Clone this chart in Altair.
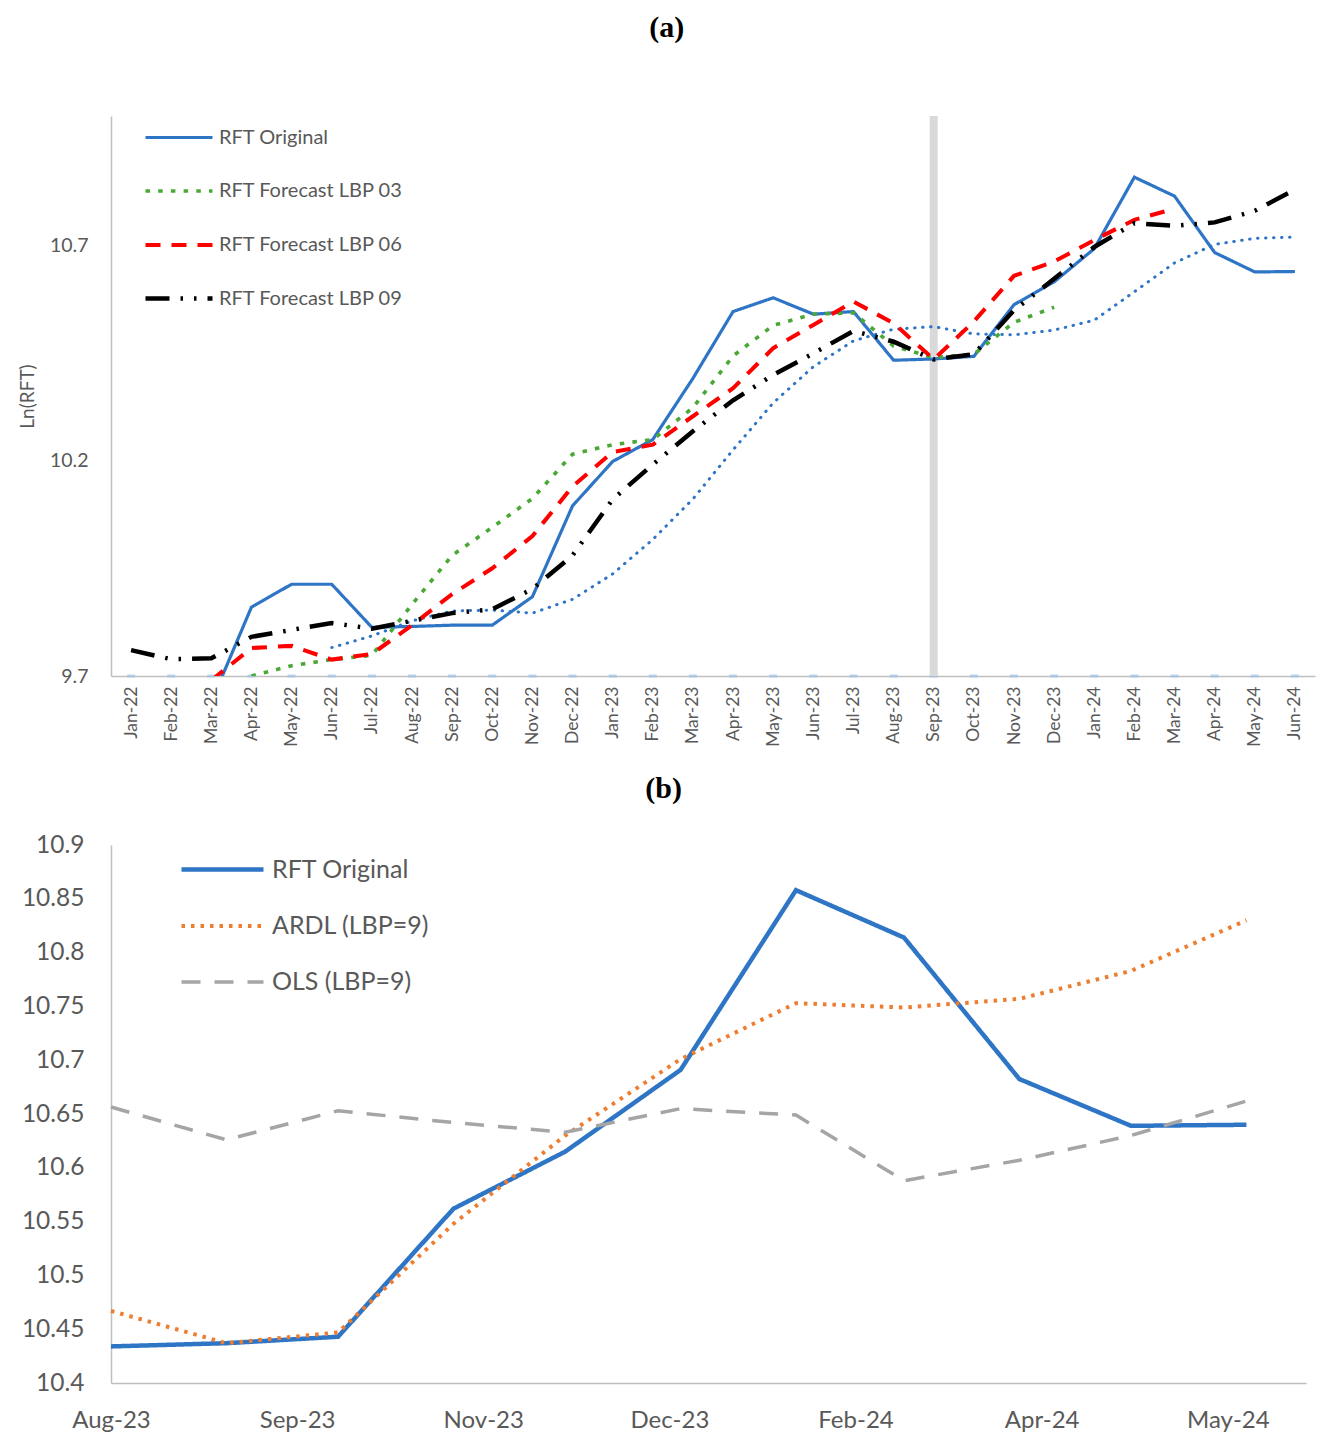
import altair as alt
import pandas as pd

# ---------------- Panel (a) data ----------------
months = ["Jan-22", "Feb-22", "Mar-22", "Apr-22", "May-22", "Jun-22", "Jul-22", "Aug-22",
          "Sep-22", "Oct-22", "Nov-22", "Dec-22", "Jan-23", "Feb-23", "Mar-23", "Apr-23",
          "May-23", "Jun-23", "Jul-23", "Aug-23", "Sep-23", "Oct-23", "Nov-23", "Dec-23",
          "Jan-24", "Feb-24", "Mar-24", "Apr-24", "May-24", "Jun-24"]

rft_original_a = [None, None, 9.64, 9.86, 9.913, 9.913, 9.813, 9.815, 9.818, 9.818, 9.884, 10.095,
                  10.198, 10.249, 10.391, 10.546, 10.578, 10.540, 10.546, 10.433, 10.436, 10.442,
                  10.562, 10.615, 10.692, 10.858, 10.814, 10.683, 10.638, 10.639]
lbp03 = [None, None, None, 9.70, 9.724, 9.738, 9.748, 9.866, 9.980, 10.045, 10.112, 10.215,
         10.237, 10.249, 10.323, 10.443, 10.514, 10.540, 10.543, 10.466, 10.439, 10.447,
         10.521, 10.556, None, None, None, None, None, None]
lbp06 = [None, None, 9.69, 9.765, 9.770, 9.738, 9.751, 9.818, 9.89, 9.95, 10.025, 10.14,
         10.22, 10.237, 10.303, 10.368, 10.461, 10.515, 10.569, 10.519, 10.435, 10.523,
         10.629, 10.662, 10.712, 10.759, 10.785, None, None, None]
lbp09 = [9.760, 9.739, 9.741, 9.791, 9.807, 9.823, 9.810, 9.828, 9.846, 9.855, 9.902, 9.98,
         10.110, 10.191, 10.268, 10.340, 10.399, 10.449, 10.501, 10.476, 10.435, 10.447,
         10.549, 10.622, 10.696, 10.751, 10.745, 10.753, 10.780, 10.829]
trend_ma = [None, None, None, None, None, 9.766, 9.793, 9.828, 9.851, 9.853, 9.846, 9.878,
            9.937, 10.017, 10.111, 10.225, 10.334, 10.418, 10.478, 10.505, 10.511, 10.494,
            10.492, 10.503, 10.526, 10.592, 10.659, 10.702, 10.716, 10.719]
series_a = ["RFT Original", "RFT Forecast LBP 03", "RFT Forecast LBP 06", "RFT Forecast LBP 09"]
highlight_month = "Sep-23"
yticks_a = [9.7, 10.2, 10.7]

# ---------------- Panel (b) data ----------------
dates_b = ["2023-08-01", "2023-09-01", "2023-10-01", "2023-11-01", "2023-12-01", "2024-01-01",
           "2024-02-01", "2024-03-01", "2024-04-01", "2024-05-01", "2024-06-01"]
rft_original_b = [10.434, 10.437, 10.443, 10.562, 10.615, 10.691, 10.858, 10.814, 10.6825, 10.639, 10.640]
ardl_b = [10.467, 10.437, 10.447, 10.548, 10.630, 10.701, 10.753, 10.749, 10.757, 10.783, 10.830]
ols_b = [10.6565, 10.626, 10.653, 10.642, 10.633, 10.655, 10.649, 10.588, 10.607, 10.630, 10.662]
series_b = ["RFT Original", "ARDL (LBP=9)", "OLS (LBP=9)"]
xtick_dates_b = ["2023-08-01", "2023-09-20", "2023-11-09", "2023-12-29", "2024-02-17", "2024-04-07", "2024-05-27"]
xdomain_b = ["2023-08-01", "2024-06-17"]
yticks_b = [10.4, 10.45, 10.5, 10.55, 10.6, 10.65, 10.7, 10.75, 10.8, 10.85, 10.9]

FONT = "Lato"
GREY_TXT = "#595959"
AXIS_LINE = "#bfbfbf"
BLUE = "#2E75C6"


def dt(s):
    y, m, d = (int(p) for p in s.split("-"))
    return alt.DateTime(year=y, month=m, date=d, utc=True)


# ---------- build panel (a) ----------
rows = []
for name, vals in zip(series_a, [rft_original_a, lbp03, lbp06, lbp09]):
    for m, v in zip(months, vals):
        if v is not None:
            rows.append({"month": m, "value": v, "series": name})
df_a = pd.DataFrame(rows)
df_ma = pd.DataFrame([{"month": m, "value": v} for m, v in zip(months, trend_ma) if v is not None])
df_months = pd.DataFrame({"month": months})
df_hl = pd.DataFrame({"month": [highlight_month]})

x_a = alt.X("month:N", sort=months,
            scale=alt.Scale(domain=months, type="point", padding=0.5),
            axis=alt.Axis(title=None, labelAngle=-90, labelFontSize=17.5, labelFont=FONT,
                          labelColor=GREY_TXT, domainColor=AXIS_LINE, domainWidth=1.5,
                          ticks=False, labelPadding=10, grid=False))
y_scale_a = alt.Scale(domain=[9.7, 11.0], nice=False, zero=False)
y_a = alt.Y("value:Q", scale=y_scale_a,
            axis=alt.Axis(values=yticks_a, format=".1f", title="Ln(RFT)", titleFont=FONT,
                          titleFontSize=19, titleFontWeight="normal", titleColor=GREY_TXT,
                          titlePadding=12, labelFont=FONT, labelFontSize=19.5, labelColor=GREY_TXT,
                          labelPadding=23, ticks=False, grid=False, domainColor=AXIS_LINE,
                          domainWidth=1.5))

axis_marks = alt.Chart(df_months).mark_tick(color="#9dc3e6", thickness=3, size=8).encode(
    x=x_a, y=alt.YDatum(9.7, scale=y_scale_a))
hl_bar = alt.Chart(df_hl).mark_rule(color="#d9d9d9", strokeWidth=8).encode(x=x_a)
ma_line = alt.Chart(df_ma).mark_line(color=BLUE, strokeWidth=3, strokeDash=[0.5, 7.5],
                                     strokeCap="round", clip=True).encode(x=x_a, y=y_a)

legend_a = alt.Legend(title=None, orient="none", legendX=32, legendY=-14, symbolType="stroke",
                      symbolSize=4489, labelFontSize=20, labelFont=FONT, labelColor=GREY_TXT,
                      labelOffset=4, rowPadding=7.5, padding=0, labelLimit=0)
lines_a = alt.Chart(df_a).mark_line(clip=True).encode(
    x=x_a, y=y_a,
    color=alt.Color("series:N", sort=series_a,
                    scale=alt.Scale(domain=series_a, range=[BLUE, "#4aa837", "#ff0000", "#000000"]),
                    legend=legend_a),
    strokeDash=alt.StrokeDash("series:N", sort=series_a,
                              scale=alt.Scale(domain=series_a,
                                              range=[[1, 0], [4.5, 8.2], [15, 11], [24, 11, 2.5, 11, 2.5, 11]]),
                              legend=legend_a),
    strokeWidth=alt.StrokeWidth("series:N", sort=series_a,
                                scale=alt.Scale(domain=series_a, range=[3.2, 4.5, 3.5, 3]),
                                legend=legend_a),
)

panel_a = alt.layer(axis_marks, hl_bar, ma_line, lines_a).properties(
    width=1204, height=560,
    title=alt.TitleParams("(a)", font="Liberation Serif", fontSize=30, fontWeight="bold",
                          color="#000000", anchor="middle", frame="bounds", offset=59))

# ---------- build panel (b) ----------
rows_b = []
for name, vals in zip(series_b, [rft_original_b, ardl_b, ols_b]):
    for d, v in zip(dates_b, vals):
        rows_b.append({"date": d, "value": v, "series": name})
df_b = pd.DataFrame(rows_b)

x_b = alt.X("date:T",
            scale=alt.Scale(type="utc", domain=[dt(s) for s in xdomain_b], nice=False),
            axis=alt.Axis(title=None, values=[dt(s) for s in xtick_dates_b],
                          labelExpr="utcFormat(datum.value, '%b-%y')",
                          labelFont=FONT, labelFontSize=24, labelColor=GREY_TXT,
                          labelPadding=25, ticks=False, grid=False, domainColor=AXIS_LINE,
                          domainWidth=1.5, labelFlush=False, labelOverlap=False, labelAngle=0))
y_b = alt.Y("value:Q", scale=alt.Scale(domain=[10.4, 10.9], nice=False, zero=False),
            axis=alt.Axis(title=None, values=yticks_b, format=".4~g", labelFont=FONT,
                          labelFontSize=24.5, labelColor=GREY_TXT, labelPadding=27, ticks=False,
                          grid=False, domainColor=AXIS_LINE, domainWidth=1.5))
legend_b = alt.Legend(title=None, orient="none", legendX=68, legendY=-19, symbolType="stroke",
                      symbolSize=6724, labelFontSize=25, labelFont=FONT, labelColor=GREY_TXT,
                      labelOffset=6, rowPadding=-4.5, padding=0, labelLimit=0)
lines_b = alt.Chart(df_b).mark_line().encode(
    x=x_b, y=y_b,
    color=alt.Color("series:N", sort=series_b,
                    scale=alt.Scale(domain=series_b, range=[BLUE, "#ED7D31", "#A5A5A5"]),
                    legend=legend_b),
    strokeDash=alt.StrokeDash("series:N", sort=series_b,
                              scale=alt.Scale(domain=series_b, range=[[1, 0], [3.5, 6], [19, 14]]),
                              legend=legend_b),
    strokeWidth=alt.StrokeWidth("series:N", sort=series_b,
                                scale=alt.Scale(domain=series_b, range=[4.5, 3.5, 5]),
                                legend=legend_b),
)
panel_b = lines_b.properties(
    width=1195, height=538,
    title=alt.TitleParams("(b)", font="Liberation Serif", fontSize=30, fontWeight="bold",
                          color="#000000", anchor="middle", frame="bounds", offset=22))

chart = alt.vconcat(panel_a, panel_b, spacing=27).resolve_scale(
    color="independent", strokeDash="independent", strokeWidth="independent",
    x="independent", y="independent"
).properties(
    padding={"left": 10, "top": 5, "right": 5, "bottom": 0},
    background="white"
).configure_view(strokeWidth=0, stroke="transparent")

chart.save("out.html", embed_options={"renderer": "svg", "actions": False})
